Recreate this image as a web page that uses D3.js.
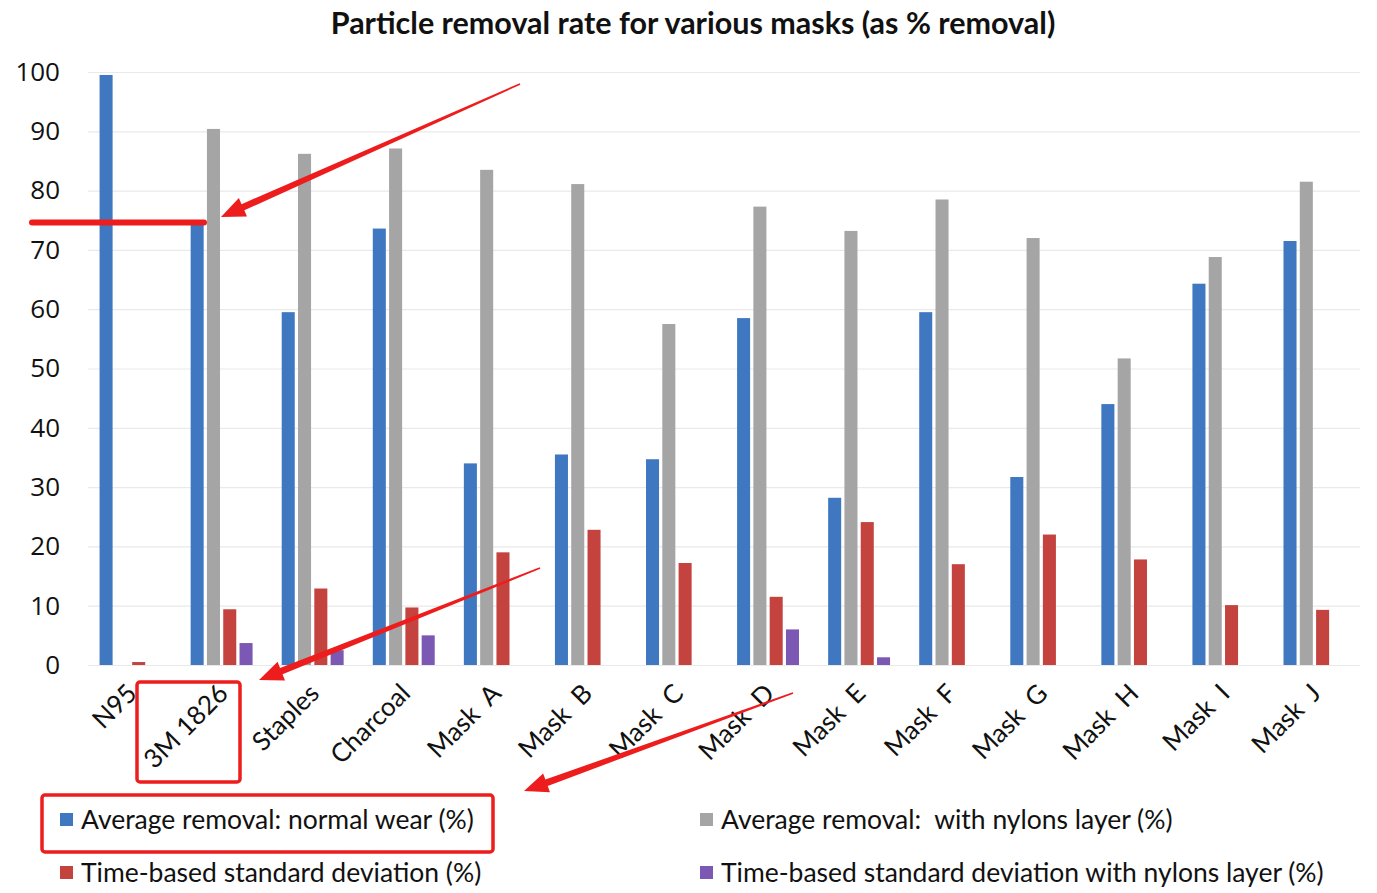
<!DOCTYPE html>
<html lang="en">
<head>
    <meta charset="UTF-8">
    <title>Particle removal rate for various masks</title>
    <script src="https://d3js.org/d3.v7.min.js"></script>
    <style>
        body { margin: 0; background: #fff; }
        text { font-family: Lato, "Open Sans", sans-serif; fill: #111; }
    </style>
</head>
<body>
    <div id="chart"></div>

    <script>
(function(d3) {
    'use strict';

    var categories = ['N95', '3M 1826', 'Staples', 'Charcoal', 'Mask  A', 'Mask  B', 'Mask  C',
                      'Mask  D', 'Mask  E', 'Mask  F', 'Mask  G', 'Mask  H', 'Mask  I', 'Mask  J'];
    var normalWear = [99.5, 74.6, 59.5, 73.6, 34.0, 35.5, 34.7, 58.5, 28.2, 59.5, 31.7, 44.0, 64.3, 71.5];
    var withNylons = [0, 90.4, 86.2, 87.1, 83.5, 81.1, 57.5, 77.3, 73.2, 78.5, 72.0, 51.7, 68.8, 81.5];
    var sdNormal   = [0.5, 9.4, 12.9, 9.7, 19.0, 22.8, 17.2, 11.5, 24.1, 17.0, 22.0, 17.8, 10.1, 9.3];
    var sdNylons   = [0, 3.7, 2.5, 5.0, 0, 0, 0, 6.0, 1.3, 0, 0, 0, 0, 0];
    var yTicks = [0, 10, 20, 30, 40, 50, 60, 70, 80, 90, 100];

    var seriesNames = ['Average removal: normal wear (%)', 'Average removal:  with nylons layer (%)',
                       'Time-based standard deviation (%)', 'Time-based standard deviation with nylons layer (%)'];
    var seriesValues = [normalWear, withNylons, sdNormal, sdNylons];
    var colors = ['#3f78c1', '#a5a5a5', '#c4433f', '#7b58b3'];

    var width = 1377, height = 893;

    var svg = d3.select('#chart').append('svg')
        .attr('width', width)
        .attr('height', height);

    var x0 = d3.scaleBand()
        .domain(categories)
        .range([85, 1360])
        .paddingInner(0.32)
        .paddingOuter(0.16);

    var x1 = d3.scaleBand()
        .domain(d3.range(4))
        .range([0, x0.bandwidth()])
        .paddingInner(0.2)
        .paddingOuter(0);

    var y = d3.scaleLinear()
        .domain([0, 100])
        .range([665, 72]);

    // gridlines
    svg.append('g')
        .call(d3.axisLeft(y).tickValues(yTicks).tickSize(-(1360 - 88)).tickFormat(''))
        .attr('transform', 'translate(88,0)')
        .call(function(g) {
            g.select('.domain').remove();
            g.selectAll('line').attr('stroke', '#e9e9e9').attr('stroke-width', 1.2);
        });

    // y labels
    svg.append('g')
        .attr('transform', 'translate(60,0)')
        .call(d3.axisLeft(y).tickValues(yTicks).tickSize(0).tickPadding(0))
        .call(function(g) {
            g.select('.domain').remove();
            g.selectAll('text')
                .style('font-family', '"Open Sans", sans-serif')
                .style('font-size', '26px')
                .attr('fill', '#111');
        });

    // bars
    var groups = svg.append('g').selectAll('g')
        .data(categories)
        .enter()
        .append('g')
        .attr('transform', function(d) { return 'translate(' + x0(d) + ',0)'; });

    groups.selectAll('rect')
        .data(function(d, i) {
            return seriesValues.map(function(vals, s) { return { s: s, v: vals[i] }; });
        })
        .enter()
        .append('rect')
        .filter(function(d) { return d.v > 0; })
        .attr('x', function(d) { return x1(d.s); })
        .attr('width', x1.bandwidth())
        .attr('y', function(d) { return y(d.v); })
        .attr('height', function(d) { return y(0) - y(d.v); })
        .attr('fill', function(d) { return colors[d.s]; });

    // x labels
    svg.append('g').selectAll('text')
        .data(categories)
        .enter()
        .append('text')
        .attr('transform', function(d) {
            return 'translate(' + (x0(d) + x0.bandwidth() / 2 + 8) + ',695) rotate(-45)';
        })
        .attr('text-anchor', 'end')
        .style('font-size', '26px')
        .style('white-space', 'pre')
        .text(function(d) { return d; });

    // title
    svg.append('text')
        .attr('x', 693)
        .attr('y', 34)
        .attr('text-anchor', 'middle')
        .style('font-size', '30.5px')
        .style('font-weight', 'bold')
        .text('Particle removal rate for various masks (as % removal)');

    // legend
    var legendPos = [[60, 820], [700, 820], [60, 873], [700, 873]];
    var legend = svg.append('g').selectAll('g')
        .data(seriesNames)
        .enter()
        .append('g')
        .attr('transform', function(d, i) {
            return 'translate(' + legendPos[i][0] + ',' + legendPos[i][1] + ')';
        });
    legend.append('rect')
        .attr('x', 0).attr('y', -7)
        .attr('width', 13).attr('height', 13)
        .attr('fill', function(d, i) { return colors[i]; });
    legend.append('text')
        .attr('x', 21).attr('y', 9)
        .style('font-size', '26.5px')
        .style('white-space', 'pre')
        .text(function(d) { return d; });

    // red annotations drawn over the chart
    var red = '#ee1d1d';
    var ann = svg.append('g');

    ann.append('line')
        .attr('x1', 32).attr('x2', 204)
        .attr('y1', y(74.6)).attr('y2', y(74.6))
        .attr('stroke', red).attr('stroke-width', 6)
        .attr('stroke-linecap', 'round');

    var arrows = [
        [[520, 84], [221, 217]],
        [[540, 568], [259, 680]],
        [[793, 693], [524, 791]]
    ];

    function arrowPoly(a) {
        var s = a[0], t = a[1];
        var dx = t[0] - s[0], dy = t[1] - s[1];
        var len = Math.sqrt(dx * dx + dy * dy);
        var ux = dx / len, uy = dy / len;
        var nx = -uy, ny = ux;
        var hl = 24, hw = 10, w0 = 0.8, w1 = 3.4;
        var bx = t[0] - ux * hl, by = t[1] - uy * hl;
        return [
            [s[0] + nx * w0, s[1] + ny * w0],
            [bx + nx * w1, by + ny * w1],
            [bx + nx * hw, by + ny * hw],
            t,
            [bx - nx * hw, by - ny * hw],
            [bx - nx * w1, by - ny * w1],
            [s[0] - nx * w0, s[1] - ny * w0]
        ];
    }

    ann.selectAll('polygon')
        .data(arrows)
        .enter()
        .append('polygon')
        .attr('points', function(d) { return arrowPoly(d).join(' '); })
        .attr('fill', red);

    var boxes = [[137, 682, 103, 100], [42, 795, 451, 57]];
    ann.selectAll('rect')
        .data(boxes)
        .enter()
        .append('rect')
        .attr('x', function(d) { return d[0]; })
        .attr('y', function(d) { return d[1]; })
        .attr('width', function(d) { return d[2]; })
        .attr('height', function(d) { return d[3]; })
        .attr('rx', 3)
        .attr('fill', 'none')
        .attr('stroke', red)
        .attr('stroke-width', 3.5);

})(window.d3);
    </script>
</body>
</html>
